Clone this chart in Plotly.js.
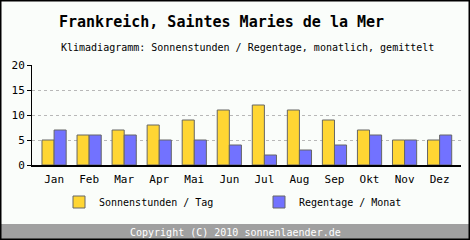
<!DOCTYPE html>
<html><head><meta charset="utf-8">
<script src="https://cdn.plot.ly/plotly-3.0.1.min.js"></script>
<style>html,body{margin:0;padding:0;background:#fff}#c{width:470px;height:240px}</style>
</head><body><div id="c"></div>
<script>
const months = ["Jan","Feb","Mar","Apr","Mai","Jun","Jul","Aug","Sep","Okt","Nov","Dez"];
const sunHours = [5,6,7,8,9,11,12,11,9,7,5,5];
const rainDays = [7,6,6,5,5,4,2,3,4,6,5,6];
const yTicks = [0,5,10,15,20];

const W=470,H=240,L=32,R=9,T=65,B=75;
const px=x=>(x-L)/(W-L-R);
const py=y=>(H-B-y)/(H-T-B);
const mono='"DejaVu Sans Mono", "Liberation Mono", monospace';

const traces=[
 {type:'bar',name:'Sonnenstunden / Tag',x:months,y:sunHours,marker:{color:'#ffd633',line:{color:'#666666',width:1}},hoverinfo:'none',legend:'legend'},
 {type:'bar',name:'Regentage / Monat',x:months,y:rainDays,marker:{color:'#7272ff',line:{color:'#666666',width:1}},hoverinfo:'none',legend:'legend2'}
];
const legBase={orientation:'h',xanchor:'left',y:py(202),yanchor:'middle',bgcolor:'rgba(0,0,0,0)',font:{family:mono,size:10},itemwidth:30};
const layout={
 width:W,height:H,margin:{l:L,r:R,t:T,b:B},
 paper_bgcolor:'#fafdfa',plot_bgcolor:'#fafdfa',
 barmode:'group',bargap:0.31,bargroupgap:0,
 font:{family:mono,size:11,color:'#000'},
 title:{text:'<b>Frankreich, Saintes Maries de la Mer</b>',x:59/W,xanchor:'left',xref:'container',y:1-22/H,yanchor:'middle',yref:'container',font:{family:mono,size:15,color:'#000'}},
 xaxis:{type:'category',range:[-0.63,11.61],showline:true,linecolor:'#000',linewidth:2,ticks:'',showgrid:false,tickfont:{family:mono,size:11},ticklabelstandoff:3,fixedrange:true},
 yaxis:{range:[0,20],tickvals:yTicks,showline:true,linecolor:'#000',linewidth:1,ticks:'outside',ticklen:4,tickcolor:'#000',showgrid:true,gridcolor:'#b8b8b8',griddash:'dot',gridwidth:1,zeroline:false,tickfont:{family:mono,size:11},fixedrange:true},
 showlegend:true,
 legend:Object.assign({},legBase,{x:px(59)}),
 legend2:Object.assign({},legBase,{x:px(259)}),
 annotations:[
  {text:'Klimadiagramm: Sonnenstunden / Regentage, monatlich, gemittelt',xref:'paper',yref:'paper',x:px(59),y:py(47),xanchor:'left',yanchor:'middle',showarrow:false,font:{family:mono,size:10,color:'#000'}},
  {text:'Copyright (C) 2010 sonnenlaender.de',xref:'paper',yref:'paper',x:px(235),y:py(232),xanchor:'center',yanchor:'middle',showarrow:false,font:{family:mono,size:10,color:'#fff'}}
 ],
 shapes:[
  {type:'rect',xref:'paper',yref:'paper',x0:px(0),x1:px(470),y0:py(224),y1:py(240),fillcolor:'#a0a0a0',line:{width:0},layer:'below'},
  {type:'rect',xref:'paper',yref:'paper',x0:px(0.5),x1:px(469.5),y0:py(0.5),y1:py(239.5),fillcolor:'rgba(0,0,0,0)',line:{color:'#000',width:2}}
 ]
};
Plotly.newPlot('c',traces,layout,{staticPlot:true,displayModeBar:false});
</script></body></html>
